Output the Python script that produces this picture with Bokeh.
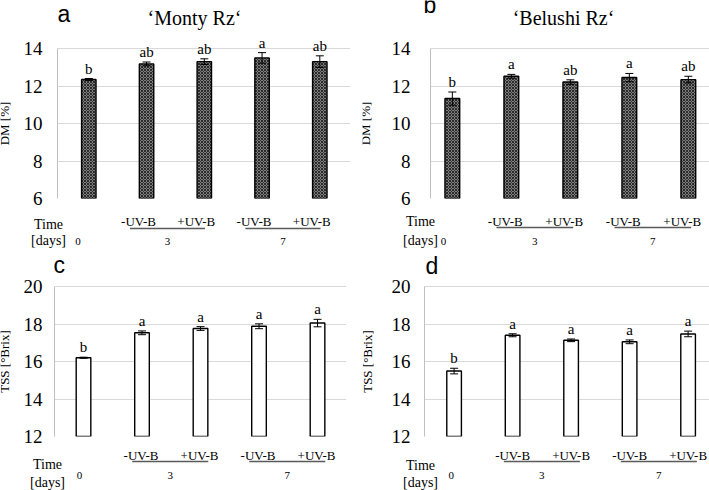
import numpy as np
from bokeh.plotting import figure
from bokeh.models import (Range1d, ColumnDataSource, Whisker, TeeHead, FixedTicker)
from bokeh.layouts import row, column
from bokeh.embed import file_html
from bokeh.resources import INLINE
from bokeh.core.properties import value

# ---------------- data ----------------
treatments = ["0 d", "3 d -UV-B", "3 d +UV-B", "7 d -UV-B", "7 d +UV-B"]
uv_labels = ["", "-UV-B", "+UV-B", "-UV-B", "+UV-B"]
day_labels = ["0", "3", "7"]

monty_dm = [12.35, 13.18, 13.30, 13.50, 13.30]
monty_dm_err = [0.05, 0.10, 0.15, 0.28, 0.31]
monty_dm_letters = ["b", "ab", "ab", "a", "ab"]

belushi_dm = [11.33, 12.52, 12.21, 12.45, 12.34]
belushi_dm_err = [0.35, 0.10, 0.12, 0.22, 0.18]
belushi_dm_letters = ["b", "a", "ab", "a", "ab"]

monty_tss = [16.20, 17.53, 17.76, 17.88, 18.05]
monty_tss_err = [0.03, 0.10, 0.10, 0.13, 0.20]
monty_tss_letters = ["b", "a", "a", "a", "a"]

belushi_tss = [15.49, 17.40, 17.13, 17.05, 17.47]
belushi_tss_err = [0.15, 0.08, 0.07, 0.10, 0.15]
belushi_tss_letters = ["b", "a", "a", "a", "a"]

dm_ticks = [6, 8, 10, 12, 14]
tss_ticks = [12, 14, 16, 18, 20]

SERIF = "Liberation Serif"
SANS = "Liberation Sans"
PAD = 10   # px of headroom above the top tick inside the chart frame
BB = 10    # px of chart border below the bottom tick (room for its label)


def blank(width, height, xr, yr):
    f = figure(frame_width=width, frame_height=height, x_range=xr, y_range=yr,
               output_backend="svg", toolbar_location=None, title=None,
               x_axis_location=None, y_axis_location=None,
               min_border_left=0, min_border_right=0,
               min_border_top=0, min_border_bottom=0)
    f.outline_line_color = None
    f.xgrid.grid_line_color = None
    f.ygrid.grid_line_color = None
    f.background_fill_color = "white"
    f.border_fill_color = "white"
    return f


def upx(g):
    return (g["xhi"] - g["xlo"]) / g["fw"]


def chart_row(ylabel, vals, errs, letters, yticks, hatched, g):
    ymin, ymax = yticks[0], yticks[-1]
    bl, br, fw, fh, wl = g["bl"], g["br"], g["fw"], g["fh"], g["wl"]
    v_px = (ymax - ymin) / fh
    pos = list(range(1, len(vals) + 1))

    yl = blank(wl, fh + PAD + BB, Range1d(0, wl),
               Range1d(ymin - BB * v_px, ymax + PAD * v_px))
    yl.text(x=[g["yl_x"]], y=[(ymin + ymax) / 2], text=[ylabel], angle=np.pi / 2,
            text_font=value(SERIF), text_font_size="13px",
            text_align="center", text_baseline="middle", text_color="black")

    p = figure(frame_width=fw, frame_height=fh + PAD,
               x_range=Range1d(g["xlo"], g["xhi"]),
               y_range=Range1d(ymin, ymax + PAD * v_px),
               output_backend="svg", toolbar_location=None, title=None,
               x_axis_location=None,
               min_border_left=bl - wl, min_border_top=0,
               min_border_right=br, min_border_bottom=BB)
    p.outline_line_color = None
    p.background_fill_color = "white"
    p.border_fill_color = "white"
    p.xgrid.grid_line_color = None
    p.ygrid.grid_line_color = "#d9d9d9"
    p.ygrid.grid_line_width = 1
    p.yaxis.ticker = FixedTicker(ticks=yticks)
    p.yaxis.bounds = (ymin, ymax)
    p.yaxis.axis_line_color = "#bfbfbf"
    p.yaxis.major_tick_line_color = None
    p.yaxis.minor_tick_line_color = None
    p.yaxis.major_label_text_font = SERIF
    p.yaxis.major_label_text_font_size = "19px"
    p.yaxis.major_label_text_color = "black"
    p.yaxis.major_label_standoff = g["standoff"]

    vv = np.array(vals)
    ee = np.array(errs)
    src = ColumnDataSource(dict(x=pos, top=vv, upper=vv + ee, lower=vv - ee,
                                letter=letters))
    if hatched:
        p.vbar(x="x", top="top", bottom=ymin, width=0.25, source=src,
               fill_color="#7c7c7c", line_color="black", line_width=1.4,
               hatch_pattern="diagonal_cross", hatch_color="#2c2c2c",
               hatch_scale=3, hatch_weight=1)
    else:
        p.vbar(x="x", top="top", bottom=ymin, width=0.25, source=src,
               fill_color="white", line_color="black", line_width=1.4)
    p.add_layout(Whisker(source=src, base="x", upper="upper", lower="lower",
                         level="overlay", line_color="black", line_width=1,
                         upper_head=TeeHead(size=8, line_color="black", line_width=1),
                         lower_head=TeeHead(size=8, line_color="black", line_width=1)))
    p.text(x="x", y="upper", text="letter", source=src, y_offset=-2,
           text_font=value(SERIF), text_font_size="15px", text_color="black",
           text_align="center", text_baseline="bottom")
    return row(yl, p, spacing=0)


def strip_below(g, height):
    """Strip under a chart: x in the chart's data units, y in px below its bottom tick."""
    u = upx(g)
    return blank(g["W"], height,
                 Range1d(g["xlo"] - g["bl"] * u, g["xhi"] + g["br"] * u),
                 Range1d(BB + height, BB))


def draw_treatments(f, g):
    pos = [1, 2, 3, 4, 5]
    u = upx(g)
    f.text(x=pos[1:], y=[g["sub_dy"]] * 4, text=uv_labels[1:],
           text_font=value(SERIF), text_font_size="13px", text_color="black",
           text_align="center", text_baseline="middle")
    f.segment(x0=[pos[1] - 0.15, pos[3] - 0.15], x1=[pos[2] + 0.15, pos[4] + 0.15],
              y0=[g["line_dy"]] * 2, y1=[g["line_dy"]] * 2,
              line_color="#5a5a5a", line_width=1.5)
    day_x = [pos[0] - 0.05, (pos[1] + pos[2]) / 2, (pos[3] + pos[4]) / 2]
    f.text(x=day_x, y=[g["day_dy"]] * 3, text=day_labels,
           text_font=value(SERIF), text_font_size="11px", text_color="black",
           text_align="center", text_baseline="middle")
    tx = g["xlo"] + g["time_dx"] * u
    f.text(x=[tx, tx], y=[g["time_dy"], g["days_dy"]], text=["Time", "[days]"],
           text_font=value(SERIF), text_font_size="14px", text_color="black",
           text_align="center", text_baseline="middle")


def panel_column(gt, gb, top_letter, title, bot_letter, top_args, bot_args):
    # top strip (letter + title): x px from frame left, y px above the top tick
    top = blank(gt["W"], gt["tH"] - PAD, Range1d(-gt["bl"], gt["W"] - gt["bl"]),
                Range1d(PAD, gt["tH"]))
    top.text(x=[gt["let_dx"]], y=[gt["let_up"]], text=[top_letter],
             text_font=value(SANS), text_font_size="23px",
             text_align="left", text_baseline="middle", text_color="black")
    top.text(x=[gt["tit_dx"]], y=[gt["tit_up"]], text=[title],
             text_font=value(SERIF), text_font_size="20px",
             text_align="center", text_baseline="middle", text_color="black")

    chart_top = chart_row(*top_args, gt)

    # middle strip: labels of the upper chart + letter of the lower chart
    mid_h = (gt["bH"] - BB) + (gb["tH"] - PAD)
    mid = strip_below(gt, mid_h)
    draw_treatments(mid, gt)
    u = upx(gt)
    lx = gt["xlo"] + (gb["bl"] + gb["let_dx"] - gt["bl"]) * u
    ly = gt["bH"] + (gb["tH"] - gb["let_up"])
    mid.text(x=[lx], y=[ly], text=[bot_letter],
             text_font=value(SANS), text_font_size="23px",
             text_align="left", text_baseline="middle", text_color="black")

    chart_bot = chart_row(*bot_args, gb)

    bot = strip_below(gb, gb["bH"] - BB)
    draw_treatments(bot, gb)
    return column(top, chart_top, mid, chart_bot, bot, spacing=0)


geom_a = dict(W=354, bl=49, br=12, fw=293, fh=150, tH=48, bH=47, wl=20, yl_x=3.5,
              xlo=0.458, xhi=0.458 + 293 / 57.75, standoff=9,
              let_dx=8, let_up=35, tit_dx=145, tit_up=31,
              time_dx=-1, time_dy=26, days_dy=42, sub_dy=23, line_dy=30, day_dy=43)
geom_b = dict(W=355, bl=62, br=4, fw=289, fh=150, tH=48, bH=47, wl=26, yl_x=3,
              xlo=0.63, xhi=0.63 + 289 / 59, standoff=14,
              let_dx=-1, let_up=44, tit_dx=139, tit_up=31,
              time_dx=-4, time_dy=23, days_dy=42, sub_dy=23, line_dy=29, day_dy=43)
geom_c = dict(W=354, bl=53, br=9, fw=292, fh=150, tH=41, bH=54, wl=20, yl_x=3.5,
              xlo=0.504, xhi=0.504 + 292 / 58.5, standoff=6,
              let_dx=0, let_up=22,
              time_dx=-6, time_dy=28, days_dy=46, sub_dy=19, line_dy=25, day_dy=39)
geom_d = dict(W=355, bl=62, br=4, fw=289, fh=150, tH=41, bH=54, wl=26, yl_x=4.5,
              xlo=0.494, xhi=0.494 + 289 / 58.5, standoff=8,
              let_dx=1, let_up=21,
              time_dx=-4, time_dy=29, days_dy=46, sub_dy=19, line_dy=25, day_dy=39)

left = panel_column(
    geom_a, geom_c, "a", "\u2018Monty Rz\u2018", "c",
    ("DM [%]", monty_dm, monty_dm_err, monty_dm_letters, dm_ticks, True),
    ("TSS [\u00b0Brix]", monty_tss, monty_tss_err, monty_tss_letters, tss_ticks, False))
right = panel_column(
    geom_b, geom_d, "b", "\u2018Belushi Rz\u2018", "d",
    ("DM [%]", belushi_dm, belushi_dm_err, belushi_dm_letters, dm_ticks, True),
    ("TSS [\u00b0Brix]", belushi_tss, belushi_tss_err, belushi_tss_letters, tss_ticks, False))

layout = row(left, right, spacing=0)
open("out.html", "w").write(file_html(layout, INLINE))
